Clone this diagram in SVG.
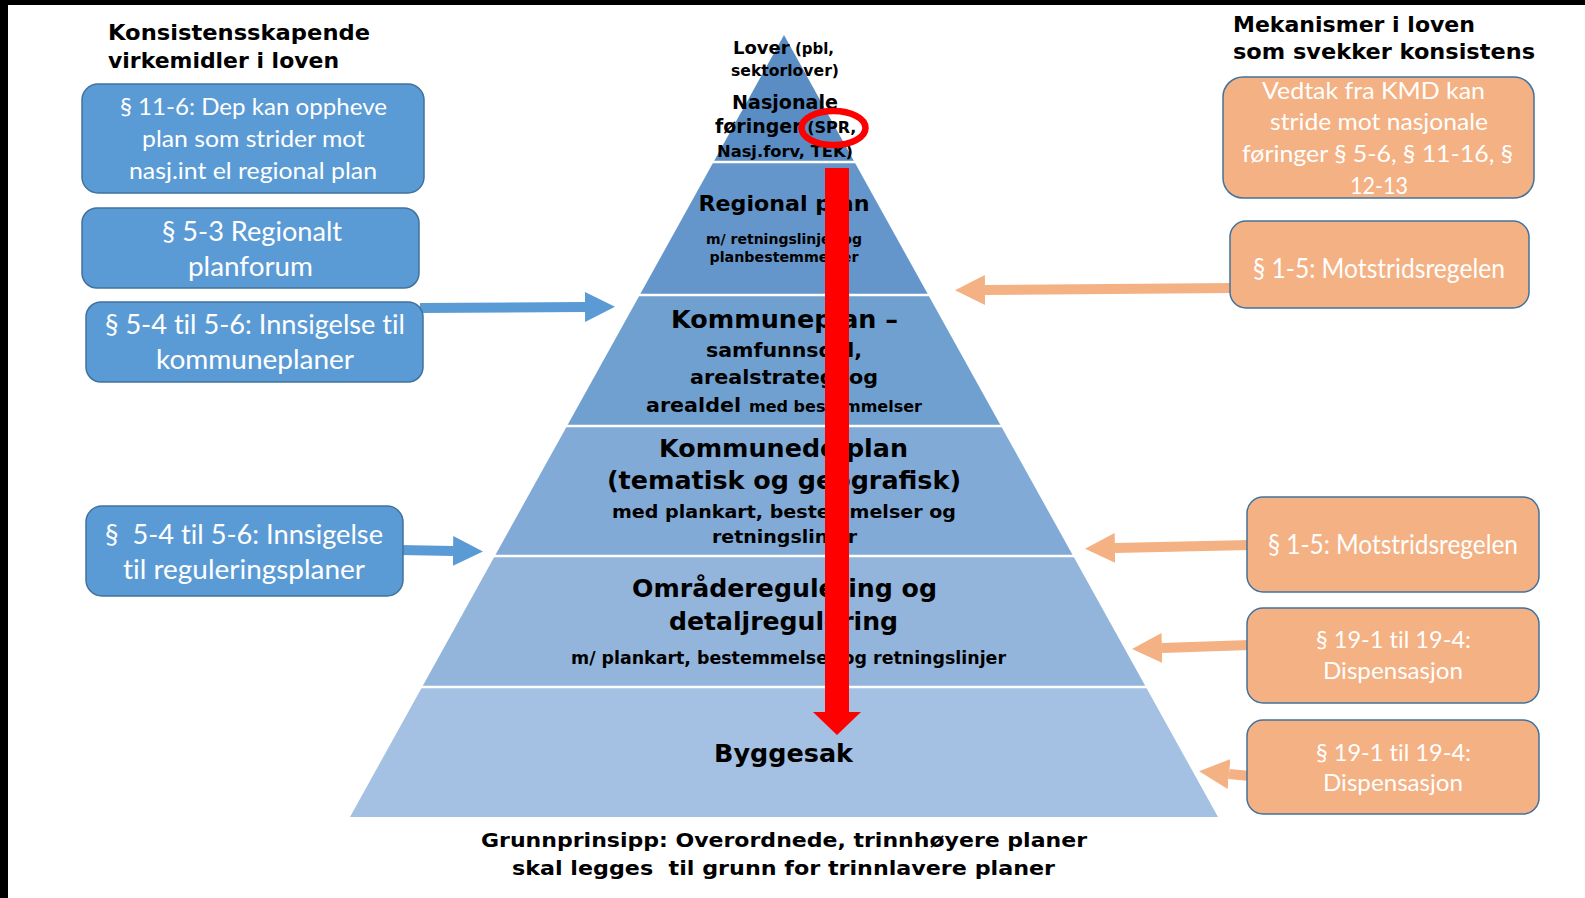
<svg xmlns="http://www.w3.org/2000/svg" width="1585" height="898" viewBox="0 0 1585 898">
<style>
.pt{font-family:"DejaVu Sans","Liberation Sans",sans-serif;font-weight:bold;fill:#000;text-anchor:middle}
.ttl{font-family:"DejaVu Sans","Liberation Sans",sans-serif;font-weight:bold;fill:#000}
.bt{font-family:Lato,"Open Sans","Liberation Sans",sans-serif;fill:#fff;text-anchor:middle;font-variant-ligatures:none}
.bbox{fill:#5B9BD5;stroke:#41719C;stroke-width:1.5}
.obox{fill:#F4B183;stroke:#41719C;stroke-width:1.5}
.barr{stroke:#5B9BD5;stroke-width:10;fill:none}
.oarr{stroke:#F4B183;stroke-width:10;fill:none}
.sep{stroke:#fff;stroke-width:2.5}
</style>
<defs>
<marker id="hb" markerUnits="userSpaceOnUse" markerWidth="30" markerHeight="30" viewBox="0 0 30 30" refX="0" refY="15" orient="auto"><path d="M0,0 L30,15 L0,30 Z" fill="#5B9BD5"/></marker>
<marker id="ho" markerUnits="userSpaceOnUse" markerWidth="30" markerHeight="30" viewBox="0 0 30 30" refX="0" refY="15" orient="auto"><path d="M0,0 L30,15 L0,30 Z" fill="#F4B183"/></marker>
</defs>
<rect x="0" y="0" width="1585" height="898" fill="#fff"/>
<rect x="0" y="0" width="1585" height="5" fill="#000"/>
<rect x="0" y="0" width="8" height="898" fill="#000"/>

<g id="pyramid">
<polygon points="784,35 854.5,162 713.5,162" fill="#5A8DC4"/>
<polygon points="713.5,162 854.5,162 928.3,295 639.7,295" fill="#6496CB"/>
<polygon points="639.7,295 928.3,295 1001,426 567,426" fill="#70A0D0"/>
<polygon points="567,426 1001,426 1073.2,556 494.8,556" fill="#81AAD6"/>
<polygon points="494.8,556 1073.2,556 1145.9,687 422.1,687" fill="#93B4DB"/>
<polygon points="422.1,687 1145.9,687 1218,817 350,817" fill="#A4C0E3"/>
<line class="sep" x1="700" y1="162" x2="868" y2="162"/>
<line class="sep" x1="630" y1="295" x2="938" y2="295"/>
<line class="sep" x1="555" y1="426" x2="1013" y2="426"/>
<line class="sep" x1="483" y1="556" x2="1085" y2="556"/>
<line class="sep" x1="410" y1="687" x2="1158" y2="687"/>
</g>

<g id="level-nasjonal">
<text class="ttl" x="733" y="54" font-size="18">Lover<tspan font-size="15"> (pbl,</tspan></text>
<text class="pt" x="785" y="76" font-size="15.5" textLength="108" lengthAdjust="spacingAndGlyphs">sektorlover)</text>
<text class="pt" x="785" y="109" font-size="19" textLength="106" lengthAdjust="spacingAndGlyphs">Nasjonale</text>
<text class="ttl" x="715" y="133" font-size="19">føringer<tspan font-size="16"> (SPR,</tspan></text>
<text class="pt" x="785" y="157" font-size="16" textLength="136" lengthAdjust="spacingAndGlyphs">Nasj.forv, TEK)</text>
</g>

<g id="level-regional">
<text class="pt" x="784" y="211" font-size="22" textLength="171" lengthAdjust="spacingAndGlyphs">Regional plan</text>
<text class="pt" x="784" y="244" font-size="14" textLength="156" lengthAdjust="spacingAndGlyphs">m/ retningslinjer og</text>
<text class="pt" x="784" y="262" font-size="14" textLength="149" lengthAdjust="spacingAndGlyphs">planbestemmelser</text>
</g>

<g id="level-kommuneplan">
<text class="pt" x="784.5" y="328" font-size="25" textLength="227" lengthAdjust="spacingAndGlyphs">Kommuneplan –</text>
<text class="pt" x="784" y="357" font-size="19" textLength="156" lengthAdjust="spacingAndGlyphs">samfunnsdel,</text>
<text class="pt" x="784" y="384" font-size="19" textLength="188" lengthAdjust="spacingAndGlyphs">arealstrategi og</text>
<text class="ttl" x="646" y="412" font-size="20" textLength="95" lengthAdjust="spacingAndGlyphs">arealdel</text>
<text class="ttl" x="749" y="412" font-size="16" textLength="173" lengthAdjust="spacingAndGlyphs">med bestemmelser</text>
</g>

<g id="level-kommunedelplan">
<text class="pt" x="783.5" y="457" font-size="25" textLength="249" lengthAdjust="spacingAndGlyphs">Kommunedelplan</text>
<text class="pt" x="784" y="489" font-size="25" textLength="354" lengthAdjust="spacingAndGlyphs">(tematisk og geografisk)</text>
<text class="pt" x="784" y="518" font-size="18.5" textLength="344" lengthAdjust="spacingAndGlyphs">med plankart, bestemmelser og</text>
<text class="pt" x="784.5" y="543" font-size="18.5" textLength="145" lengthAdjust="spacingAndGlyphs">retningslinjer</text>
</g>

<g id="level-regulering">
<text class="pt" x="784.5" y="597" font-size="24" textLength="305" lengthAdjust="spacingAndGlyphs">Områderegulering og</text>
<text class="pt" x="783.5" y="630" font-size="24" textLength="229" lengthAdjust="spacingAndGlyphs">detaljregulering</text>
<text class="pt" x="788.5" y="664" font-size="17" textLength="435" lengthAdjust="spacingAndGlyphs">m/ plankart, bestemmelser og retningslinjer</text>
</g>

<g id="level-byggesak">
<text class="pt" x="783.5" y="762" font-size="24" textLength="139" lengthAdjust="spacingAndGlyphs">Byggesak</text>
</g>

<g id="connectors">
<line class="barr" x1="420" y1="308" x2="585" y2="307" marker-end="url(#hb)"/>
<line class="barr" x1="400" y1="550" x2="453" y2="551" marker-end="url(#hb)"/>
<line class="oarr" x1="1233" y1="288" x2="985" y2="290" marker-end="url(#ho)"/>
<line class="oarr" x1="1250" y1="545" x2="1115" y2="548" marker-end="url(#ho)"/>
<line class="oarr" x1="1250" y1="645" x2="1162" y2="648" marker-end="url(#ho)"/>
<line class="oarr" x1="1250" y1="776" x2="1229" y2="774" marker-end="url(#ho)"/>
<path d="M825,168 H849 V712 H861 L837,735 L813,712 H825 Z" fill="#FF0000"/>
</g>

<g id="highlight">
<ellipse cx="833.5" cy="128" rx="32" ry="17" fill="none" stroke="#FF0000" stroke-width="6.5"/>
</g>

<g id="title-left">
<text class="ttl" x="108" y="40" font-size="22" textLength="262" lengthAdjust="spacingAndGlyphs">Konsistensskapende</text>
<text class="ttl" x="108" y="68" font-size="22" textLength="231" lengthAdjust="spacingAndGlyphs">virkemidler i loven</text>
</g>

<g id="title-right">
<text class="ttl" x="1233" y="32" font-size="22" textLength="242" lengthAdjust="spacingAndGlyphs">Mekanismer i loven</text>
<text class="ttl" x="1233" y="59" font-size="22" textLength="302" lengthAdjust="spacingAndGlyphs">som svekker konsistens</text>
</g>

<g id="box-11-6">
<rect class="bbox" x="82" y="84" width="342" height="109" rx="16"/>
<text class="bt" x="253.5" y="115" font-size="22.5" textLength="267" lengthAdjust="spacingAndGlyphs">§ 11-6: Dep kan oppheve</text>
<text class="bt" x="253.5" y="147" font-size="22.5" textLength="223" lengthAdjust="spacingAndGlyphs">plan som strider mot</text>
<text class="bt" x="253" y="179" font-size="22.5" textLength="248" lengthAdjust="spacingAndGlyphs">nasj.int el regional plan</text>
</g>

<g id="box-5-3">
<rect class="bbox" x="82" y="208" width="337" height="80" rx="15"/>
<text class="bt" x="252" y="241" font-size="26" textLength="180" lengthAdjust="spacingAndGlyphs">§ 5-3 Regionalt</text>
<text class="bt" x="250.5" y="276" font-size="26" textLength="125" lengthAdjust="spacingAndGlyphs">planforum</text>
</g>

<g id="box-5-4-kommuneplaner">
<rect class="bbox" x="86" y="302" width="337" height="80" rx="15"/>
<text class="bt" x="255" y="334" font-size="26" textLength="300" lengthAdjust="spacingAndGlyphs">§ 5-4 til 5-6: Innsigelse til</text>
<text class="bt" x="255" y="369" font-size="26" textLength="198" lengthAdjust="spacingAndGlyphs">kommuneplaner</text>
</g>

<g id="box-5-4-regulering">
<rect class="bbox" x="86" y="506" width="317" height="90" rx="16"/>
<text class="bt" x="244" y="544" font-size="26" textLength="278" lengthAdjust="spacingAndGlyphs" xml:space="preserve">§  5-4 til 5-6: Innsigelse</text>
<text class="bt" x="244" y="579" font-size="26" textLength="242" lengthAdjust="spacingAndGlyphs">til reguleringsplaner</text>
</g>

<g id="box-kmd">
<rect class="obox" x="1223" y="77" width="311" height="121" rx="20"/>
<text class="bt" x="1373.5" y="99" font-size="23" textLength="223" lengthAdjust="spacingAndGlyphs">Vedtak fra KMD kan</text>
<text class="bt" x="1379" y="130" font-size="23" textLength="218" lengthAdjust="spacingAndGlyphs">stride mot nasjonale</text>
<text class="bt" x="1377.5" y="162" font-size="23" textLength="271" lengthAdjust="spacingAndGlyphs">føringer § 5-6, § 11-16, §</text>
<text class="bt" x="1379" y="194" font-size="23" textLength="58" lengthAdjust="spacingAndGlyphs">12-13</text>
</g>

<g id="box-1-5-a">
<rect class="obox" x="1230" y="221" width="299" height="87" rx="16"/>
<text class="bt" x="1379" y="278" font-size="26" textLength="252" lengthAdjust="spacingAndGlyphs">§ 1-5: Motstridsregelen</text>
</g>

<g id="box-1-5-b">
<rect class="obox" x="1247" y="497" width="292" height="95" rx="16"/>
<text class="bt" x="1393" y="554" font-size="26" textLength="250" lengthAdjust="spacingAndGlyphs">§ 1-5: Motstridsregelen</text>
</g>

<g id="box-19-a">
<rect class="obox" x="1247" y="608" width="292" height="95" rx="16"/>
<text class="bt" x="1393.5" y="648" font-size="24" textLength="155" lengthAdjust="spacingAndGlyphs">§ 19-1 til 19-4:</text>
<text class="bt" x="1393" y="679" font-size="24" textLength="140" lengthAdjust="spacingAndGlyphs">Dispensasjon</text>
</g>

<g id="box-19-b">
<rect class="obox" x="1247" y="720" width="292" height="94" rx="16"/>
<text class="bt" x="1393.5" y="761" font-size="24" textLength="155" lengthAdjust="spacingAndGlyphs">§ 19-1 til 19-4:</text>
<text class="bt" x="1393" y="791" font-size="24" textLength="140" lengthAdjust="spacingAndGlyphs">Dispensasjon</text>
</g>

<g id="footer">
<text class="pt" x="784" y="847" font-size="20" textLength="606" lengthAdjust="spacingAndGlyphs">Grunnprinsipp: Overordnede, trinnhøyere planer</text>
<text class="pt" x="783.5" y="875" font-size="20" textLength="543" lengthAdjust="spacingAndGlyphs" xml:space="preserve">skal legges  til grunn for trinnlavere planer</text>
</g>
</svg>
